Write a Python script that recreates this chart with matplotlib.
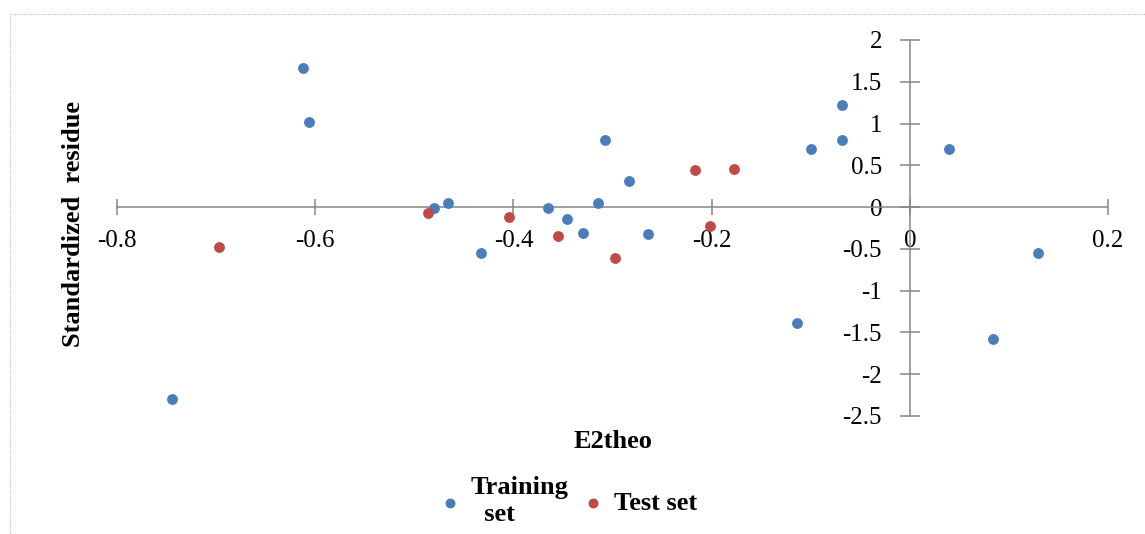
import matplotlib
matplotlib.use('Agg')
import matplotlib.pyplot as plt
from matplotlib.lines import Line2D

# values
train_x = [-0.745, -0.612, -0.606, -0.480, -0.466, -0.433, -0.365, -0.346, -0.330, -0.315,
           -0.308, -0.283, -0.264, -0.114, -0.100, -0.068, -0.068, 0.040, 0.084, 0.129]
train_y = [-2.30, 1.66, 1.02, -0.01, 0.05, -0.55, -0.01, -0.14, -0.31, 0.05,
           0.80, 0.31, -0.32, -1.39, 0.69, 1.22, 0.80, 0.69, -1.58, -0.55]
test_x = [-0.697, -0.486, -0.404, -0.355, -0.297, -0.217, -0.202, -0.177]
test_y = [-0.48, -0.07, -0.12, -0.34, -0.61, 0.44, -0.23, 0.46]

x_ticks = [-0.8, -0.6, -0.4, -0.2, 0, 0.2]
x_tick_labels = ['-0.8', '-0.6', '-0.4', '-0.2', '0', '0.2']
y_ticks = [-2.5, -2, -1.5, -1, -0.5, 0, 0.5, 1, 1.5, 2]
y_tick_labels = ['-2.5', '-2', '-1.5', '-1', '-0.5', '0', '0.5', '1', '1.5', '2']

plt.rcParams['font.family'] = ['Liberation Serif', 'DejaVu Serif']
axis_grey = '#868686'

W, H = 1145, 534
fig = plt.figure(figsize=(W / 100, H / 100), dpi=100)
ax = fig.add_axes([117 / W, 1 - 416 / H, 991 / W, 376 / H])

ax.scatter(train_x, train_y, s=46, color='#4a7ebb', label='Training\n  set', zorder=3)
ax.scatter(test_x, test_y, s=46, color='#be4b48', label='Test set', zorder=3)

ax.set_xlim(-0.8, 0.2)
ax.set_ylim(-2.5, 2)

# axes crossing at the origin
ax.spines['left'].set_position(('data', 0))
ax.spines['bottom'].set_position(('data', 0))
ax.spines['top'].set_visible(False)
ax.spines['right'].set_visible(False)
for s in ['left', 'bottom']:
    ax.spines[s].set_color(axis_grey)
    ax.spines[s].set_linewidth(1.1)

ax.set_xticks(x_ticks)
ax.set_xticklabels(x_tick_labels)
ax.set_yticks(y_ticks)
ax.set_yticklabels(y_tick_labels)
ax.tick_params(axis='x', direction='inout', length=11, width=1.1, color=axis_grey,
               pad=11, labelsize=18)
ax.tick_params(axis='y', direction='inout', length=14, width=1.1, color=axis_grey,
               pad=13, labelsize=18)

ax.set_xlabel('E2theo', fontsize=19, fontweight='bold', va='center')
ax.xaxis.set_label_coords(0.5, (416 - 441) / 376)
ax.set_ylabel('Standardized  residue', fontsize=19, fontweight='bold', va='center')
ax.yaxis.set_label_coords((73 - 117) / 991, (416 - 224) / 376)

fig.legend(loc='center', bbox_to_anchor=(568 / W, 1 - 501 / H), ncol=2, frameon=False,
           prop={'weight': 'bold', 'size': 19}, markerscale=0.9, handletextpad=0.4,
           columnspacing=0.5, handlelength=0.8)

# chart frame, cut off at right and bottom in the reference
frame = dict(color='#c0c0c0', linewidth=0.8, linestyle=(0, (1, 1)))
fig.add_artist(Line2D([10 / W, 1.0], [1 - 14 / H, 1 - 14 / H], transform=fig.transFigure, **frame))
fig.add_artist(Line2D([10 / W, 10 / W], [0.0, 1 - 14 / H], transform=fig.transFigure, **frame))

fig.savefig('out.png', dpi=100)
